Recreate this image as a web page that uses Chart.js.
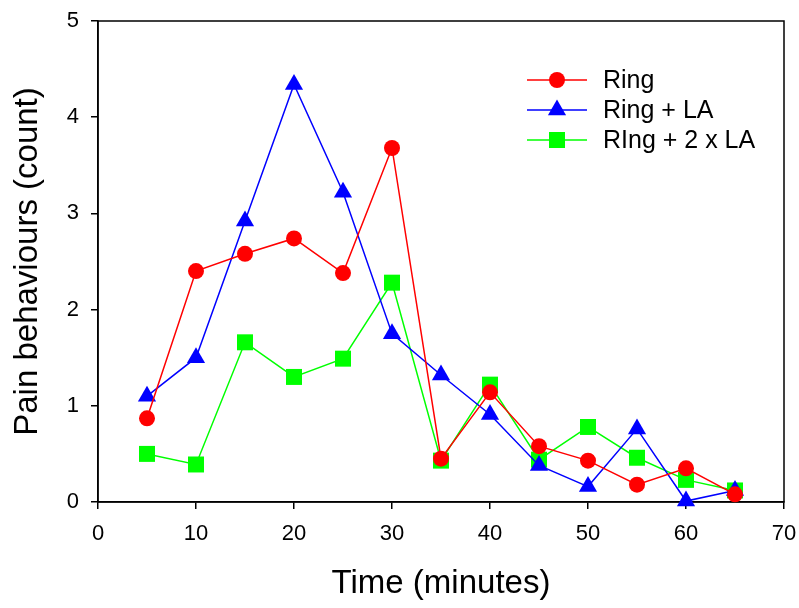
<!DOCTYPE html>
<html>
<head>
<meta charset="utf-8">
<script src="https://cdn.jsdelivr.net/npm/chart.js@4/dist/chart.umd.min.js"></script>
<style>
  html, body { margin: 0; padding: 0; background: #fff; }
  #wrap { width: 799px; height: 608px; }
</style>
</head>
<body>
<div id="wrap"><canvas id="chart"></canvas></div>
<script>
const times = [5, 10, 15, 20, 25, 30, 35, 40, 45, 50, 55, 60, 65];
const ring = [0.87, 2.40, 2.58, 2.74, 2.38, 3.68, 0.45, 1.14, 0.58, 0.43, 0.18, 0.35, 0.08];
const ringLA = [1.10, 1.50, 2.92, 4.34, 3.22, 1.75, 1.32, 0.91, 0.38, 0.16, 0.76, 0.01, 0.12];
const ring2LA = [0.50, 0.39, 1.66, 1.30, 1.49, 2.28, 0.43, 1.22, 0.44, 0.78, 0.46, 0.23, 0.12];
const xTicks = [0, 10, 20, 30, 40, 50, 60, 70];
const yTicks = [0, 1, 2, 3, 4, 5];

const FONT = "'Liberation Sans', Arial, sans-serif";

function pts(vals) {
    return times.map((t, i) => ({ x: t, y: vals[i] }));
}

function series(label, vals, color, style, radius) {
    return {
        label: label,
        data: pts(vals),
        borderColor: color,
        backgroundColor: color,
        borderWidth: 1.5,
        pointStyle: style,
        pointRadius: radius,
        pointBorderWidth: 0,
        pointHoverRadius: radius,
        tension: 0,
        clip: false
    };
}

// box around the plot
const frame = {
    id: "frame",
    beforeDatasetsDraw(chart) {
        const a = chart.chartArea;
        const ctx = chart.ctx;
        ctx.save();
        ctx.strokeStyle = "#000";
        ctx.lineWidth = 1.5;
        ctx.strokeRect(a.left, a.top, a.right - a.left, a.bottom - a.top);
        ctx.restore();
    }
};

// legend inside the plot, line + marker
const innerLegend = {
    id: "innerLegend",
    afterDraw(chart) {
        const ctx = chart.ctx;
        ctx.save();
        ctx.font = "25px " + FONT;
        ctx.textBaseline = "middle";
        ctx.textAlign = "left";
        chart.data.datasets.forEach((ds, i) => {
            const y = 80 + i * 30;
            ctx.strokeStyle = ds.borderColor;
            ctx.fillStyle = ds.backgroundColor;
            ctx.lineWidth = 1.5;
            ctx.beginPath();
            ctx.moveTo(527, y);
            ctx.lineTo(587, y);
            ctx.stroke();
            Chart.helpers.drawPoint(ctx, {
                pointStyle: ds.pointStyle,
                radius: ds.pointRadius,
                rotation: 0,
                borderWidth: 0
            }, 557, y);
            ctx.fillStyle = "#000";
            ctx.fillText(ds.label, 603, y + 1);
        });
        ctx.restore();
    }
};

function noOverflow(axis) {
    axis.paddingLeft = 0;
    axis.paddingRight = 0;
    axis.paddingTop = 0;
    axis.paddingBottom = 0;
}

new Chart(document.getElementById("chart"), {
    type: "line",
    data: {
        datasets: [
            series("Ring", ring, "#ff0000", "circle", 8),
            series("Ring + LA", ringLA, "#0000ff", "triangle", 10.5),
            series("RIng + 2 x LA", ring2LA, "#00ff00", "rect", 11.3)
        ]
    },
    options: {
        responsive: true,
        maintainAspectRatio: false,
        animation: false,
        layout: { padding: { top: 21, right: 15, left: 0, bottom: 0 } },
        plugins: {
            legend: { display: false },
            tooltip: { enabled: false }
        },
        scales: {
            x: {
                type: "linear",
                min: 0,
                max: 70,
                afterBuildTicks(axis) { axis.ticks = xTicks.map(v => ({ value: v })); },
                afterFit(axis) { axis.height = 106; noOverflow(axis); },
                ticks: { color: "#000", font: { family: FONT, size: 22 }, padding: 12, maxRotation: 0 },
                grid: { drawOnChartArea: false, drawTicks: true, tickLength: 7, color: "#000", lineWidth: 1.5 },
                border: { color: "#000", width: 1.5 },
                title: {
                    display: true,
                    text: "Time (minutes)",
                    color: "#000",
                    font: { family: FONT, size: 33, lineHeight: 1.2 },
                    padding: { top: 3, bottom: 4 }
                }
            },
            y: {
                min: 0,
                max: 5,
                afterBuildTicks(axis) { axis.ticks = yTicks.map(v => ({ value: v })); },
                afterFit(axis) { axis.width = 98; noOverflow(axis); },
                ticks: { color: "#000", font: { family: FONT, size: 22 }, padding: 12 },
                grid: { drawOnChartArea: false, drawTicks: true, tickLength: 7, color: "#000", lineWidth: 1.5 },
                border: { color: "#000", width: 1.5 },
                title: {
                    display: true,
                    text: "Pain behaviours (count)",
                    color: "#000",
                    font: { family: FONT, size: 33, lineHeight: 1.2 },
                    padding: { top: 8, bottom: 4 }
                }
            }
        }
    },
    plugins: [frame, innerLegend]
});
</script>
</body>
</html>
